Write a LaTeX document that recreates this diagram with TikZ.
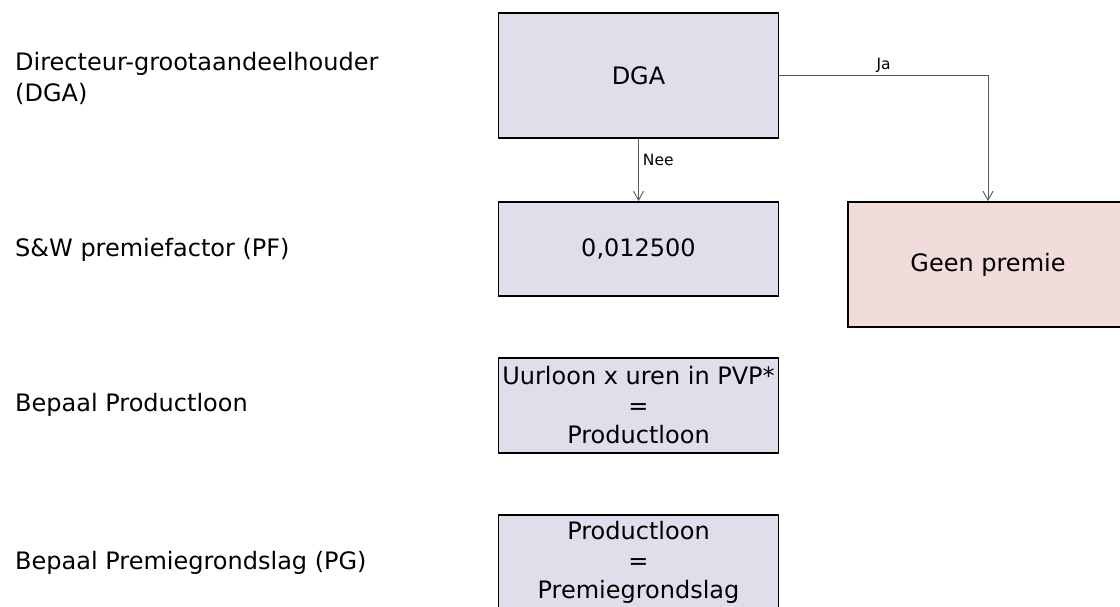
\documentclass[tikz,border=0pt]{standalone}
\usepackage{fontspec}
\setmainfont{DejaVu Sans}
\usetikzlibrary{arrows.meta}
\definecolor{boxlav}{HTML}{E1DEEC}
\definecolor{boxpink}{HTML}{F2DCDB}
\definecolor{conncol}{HTML}{5A5A5A}
\tikzset{
  flowbox/.style={draw=black, line width=1.8pt, fill=boxlav, minimum width=280pt,
    minimum height=125pt, inner sep=0pt, align=center,
    font=\fontsize{24}{29.5}\selectfont},
  sidelabel/.style={anchor=west, align=left, inner sep=0pt,
    font=\fontsize{24}{31}\selectfont},
  connline/.style={draw=conncol, line width=0.9pt,
    -{Straight Barb[length=9pt,width=10pt]}},
  edgelbl/.style={font=\fontsize{15.5}{18}\selectfont, inner sep=0pt}
}
\begin{document}
\begin{tikzpicture}[x=1pt,y=-1pt]
\useasboundingbox (0,0) rectangle (1120,606);
\clip (0,0) rectangle (1120,606);
\fill[white] (0,0) rectangle (1120,606);

\node[sidelabel] (l1) at (15,78) {Directeur-grootaandeelhouder\\(DGA)};
\node[sidelabel] (l2) at (15,250) {S\&W premiefactor (PF)};
\node[sidelabel] (l3) at (15,405) {Bepaal Productloon};
\node[sidelabel] (l4) at (15,563) {Bepaal Premiegrondslag (PG)};

\node[flowbox] (dga) at (638.5,75.5) {DGA};
\node[flowbox, minimum height=94pt] (pf) at (638.5,249) {0,012500};
\node[flowbox, fill=boxpink] (geen) at (988,264.5) {Geen premie};
\node[flowbox, minimum height=95pt] (pl) at (638.5,405.5) {Uurloon x uren in PVP*\\=\\Productloon};
\node[flowbox, minimum height=95pt] (pg) at (638.5,562.5) {Productloon\\=\\Premiegrondslag};

\draw[connline] (dga.south) -- node[edgelbl, anchor=west, xshift=4pt, pos=0.34] {Nee} (pf.north);
\draw[connline] (dga.east) -| node[edgelbl, anchor=base, yshift=6pt, pos=0.25] {Ja} (geen.north);
\end{tikzpicture}
\end{document}
